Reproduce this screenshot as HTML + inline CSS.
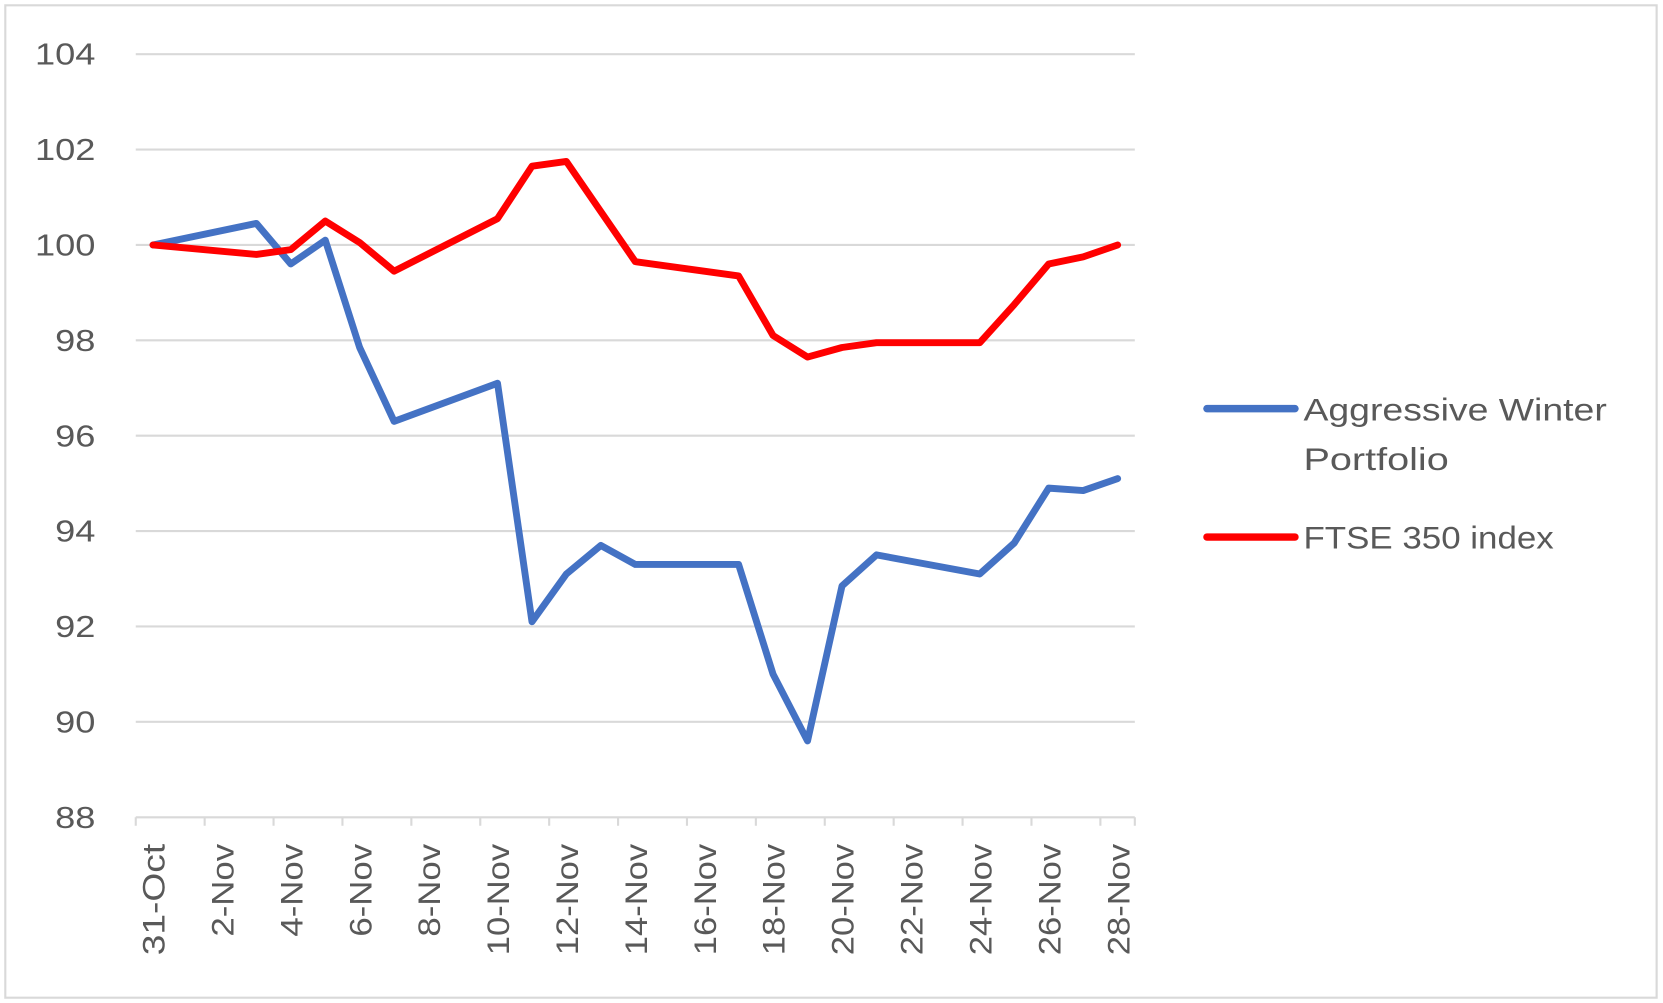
<!DOCTYPE html>
<html><head><meta charset="utf-8"><style>
html,body{margin:0;padding:0;background:#fff}
svg{display:block}
text{font-family:"Liberation Sans",sans-serif;fill:#595959}
</style></head><body>
<svg id="chart" width="1663" height="1003" viewBox="0 0 1568 945" preserveAspectRatio="none" xmlns="http://www.w3.org/2000/svg">
<rect x="5" y="5" width="1557" height="935" fill="#fff" stroke="#d9d9d9" stroke-width="2"/>
<g id="grid"></g><g id="yl"></g><g id="xl"></g><g id="series"></g>
<g>
<line x1="1138" y1="385" x2="1221" y2="385" stroke="#4472c4" stroke-width="7" stroke-linecap="round"/>
<text x="1229" y="396" font-size="30" textLength="286" lengthAdjust="spacingAndGlyphs">Aggressive Winter</text>
<text x="1229" y="443" font-size="30" textLength="137" lengthAdjust="spacingAndGlyphs">Portfolio</text>
<line x1="1138" y1="506" x2="1221" y2="506" stroke="#ff0000" stroke-width="7" stroke-linecap="round"/>
<text x="1229" y="517" font-size="30" textLength="236" lengthAdjust="spacingAndGlyphs">FTSE 350 index</text>
</g>
</svg>
<script>
const categories=["31-Oct","1-Nov","2-Nov","3-Nov","4-Nov","5-Nov","6-Nov","7-Nov","8-Nov","9-Nov","10-Nov","11-Nov","12-Nov","13-Nov","14-Nov","15-Nov","16-Nov","17-Nov","18-Nov","19-Nov","20-Nov","21-Nov","22-Nov","23-Nov","24-Nov","25-Nov","26-Nov","27-Nov","28-Nov"];
const aggressive=[100,null,null,100.45,99.6,100.1,97.85,96.3,null,null,97.1,92.1,93.1,93.7,93.3,null,null,93.3,91.0,89.6,92.85,93.5,null,null,93.1,93.75,94.9,94.85,95.1];
const ftse=[100,null,null,99.8,99.9,100.5,100.05,99.45,null,null,100.55,101.65,101.75,100.7,99.65,null,null,99.35,98.1,97.65,97.85,97.95,null,null,97.95,98.75,99.6,99.75,100.0];
const yTicks=[88,90,92,94,96,98,100,102,104];
const NS="http://www.w3.org/2000/svg";
const X0=128,X1=1070,Y0=770,Y1=51,YMIN=88,YMAX=104;
const step=(X1-X0)/categories.length;
function xs(i){return X0+step*(i+0.5);}
function ys(v){return Y0-(v-YMIN)/(YMAX-YMIN)*(Y0-Y1);}
function mk(t,a,p){const e=document.createElementNS(NS,t);for(const k in a)e.setAttribute(k,a[k]);p.appendChild(e);return e;}
const grid=document.getElementById('grid'),yl=document.getElementById('yl'),xl=document.getElementById('xl'),ser=document.getElementById('series');
yTicks.forEach(v=>{
 const y=ys(v);
 if(v!==YMIN){const g=mk('line',{x1:X0,x2:X1,y1:y,y2:y,stroke:'#d9d9d9','stroke-width':2},grid);
 
 }
 const t=mk('text',{x:90,y:y+10,'text-anchor':'end','font-size':29,textLength:String(v).length*19,lengthAdjust:'spacingAndGlyphs'},yl);t.textContent=v;
 
 
});
const ax=mk('line',{x1:X0,x2:X1,y1:Y0,y2:Y0,stroke:'#d9d9d9','stroke-width':2},grid);


for(let i=0;i<=categories.length;i+=2){
 const x=i>=categories.length?X1:X0+step*i;
 const tk=mk('line',{x1:x,x2:x,y1:Y0,y2:Y0+8,stroke:'#d9d9d9','stroke-width':2},grid);
 
 
}
const tkEnd=mk('line',{x1:X1,x2:X1,y1:Y0,y2:Y0+8,stroke:'#d9d9d9','stroke-width':2},grid);


categories.forEach((c,i)=>{
 if(i%2)return;
 const x=xs(i)+11;
 const t=mk('text',{x:x,y:795,'text-anchor':'end','font-size':30,textLength:c.length*17.5,lengthAdjust:'spacingAndGlyphs',transform:`rotate(-90 ${x} 795)`},xl);t.textContent=c;
 
 
});
function line(arr,color,name){
 const pts=[];arr.forEach((v,i)=>{if(v!==null)pts.push(xs(i).toFixed(1)+','+ys(v).toFixed(1));});
 const p=mk('polyline',{points:pts.join(' '),fill:'none',stroke:color,'stroke-width':6.5,'stroke-linejoin':'round','stroke-linecap':'round'},ser);
 
 
}
line(aggressive,'#4472c4','series-aggressive-winter-portfolio');
line(ftse,'#ff0000','series-ftse-350-index');
</script>
</body></html>
